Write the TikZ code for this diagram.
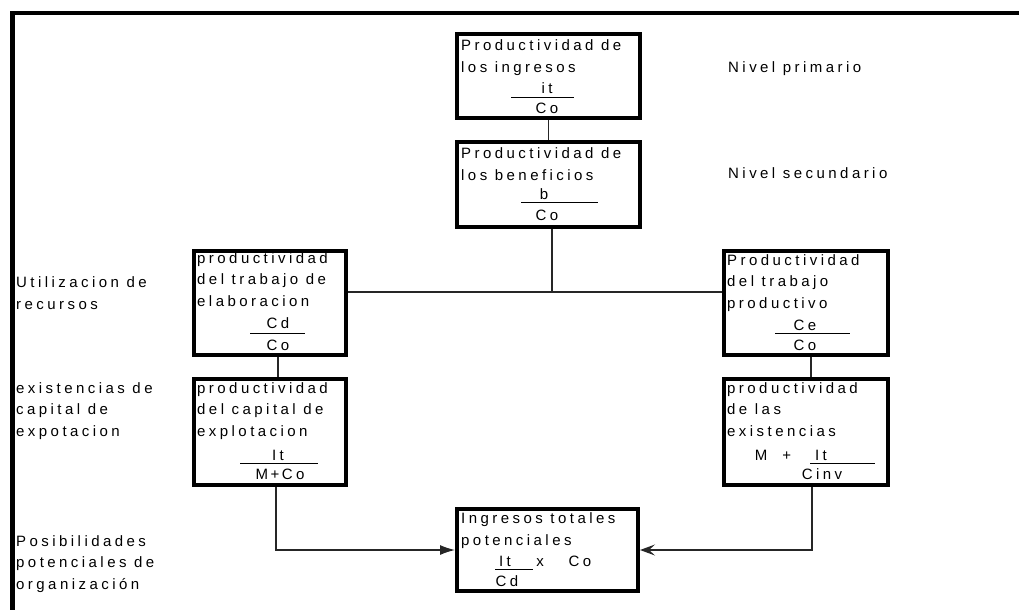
\documentclass[tikz,border=0pt]{standalone}
\usepackage{fontspec}
\setmainfont{Liberation Sans}[LetterSpace=23]
\usetikzlibrary{arrows.meta}
\begin{document}
\begin{tikzpicture}[x=1pt,y=-1pt,
  box/.style={draw, line width=4pt, rectangle, inner sep=0pt, anchor=north west},
  % multi-line texts are placed by the baseline of their last line
  txt/.style={anchor=base west, inner sep=0pt, align=left, font=\fontsize{15}{21.5}\selectfont},
  mid/.style={anchor=base, inner sep=0pt, font=\fontsize{15}{21.5}\selectfont},
  link/.style={line width=1.2pt, draw=black!85},
  fracline/.style={line width=1pt}]
\useasboundingbox (0,0) rectangle (1019,610);

% outer frame (top and left edges only)
\draw[line width=4.5pt, line join=miter] (1019,13) -- (12.5,13) -- (12.5,610);

% boxes
\node[box, minimum width=183pt, minimum height=84pt]  (A) at (455,32)  {};
\node[box, minimum width=183pt, minimum height=85pt]  (B) at (455,140) {};
\node[box, minimum width=152pt, minimum height=104pt] (C) at (192,249) {};
\node[box, minimum width=152pt, minimum height=106pt] (D) at (192,377) {};
\node[box, minimum width=164pt, minimum height=104pt] (E) at (722,249) {};
\node[box, minimum width=164pt, minimum height=106pt] (F) at (722,377) {};
\node[box, minimum width=181pt, minimum height=82pt]  (G) at (455,507) {};

% box A
\node[txt] (At) at (461,72) {Productividad de\\los ingresos};
\node[mid] (An) at (547,93) {it};
\node[mid] (Ad) at (547,113) {Co};
\draw[fracline] (511,97) -- (574,97);

% box B
\node[txt] (Bt) at (461,180) {Productividad de\\los beneficios};
\node[mid] (Bn) at (544,199) {b};
\node[mid] (Bd) at (547,220) {Co};
\draw[fracline] (521,202) -- (598,202);

% box C
\node[txt] (Ct) at (197,306) {productividad\\del trabajo de\\elaboracion};
\node[mid] (Cn) at (278,328) {Cd};
\node[mid] (Cdn) at (278,350) {Co};
\draw[fracline] (250,333) -- (305,333);

% box E
\node[txt] (Et) at (727,308) {Productividad\\del trabajo\\productivo};
\node[mid] (En) at (805,330) {Ce};
\node[mid] (Ed) at (805,350) {Co};
\draw[fracline] (775,333) -- (850,333);

% box D
\node[txt] (Dt) at (197,436) {productividad\\del capital de\\explotacion};
\node[mid] (Dn) at (278,460) {It};
\node[mid] (Dd) at (280,479) {M\,+\,Co};
\draw[fracline] (240,463) -- (318,463);

% box F
\node[txt] (Ft) at (727,436) {productividad\\de las\\existencias};
\node[mid] (Fm) at (773,460) {M\ \ +};
\node[mid] (Fn) at (821,460) {It};
\node[mid] (Fd) at (822,479) {Cinv};
\draw[fracline] (810,463) -- (875,463);

% box G
\node[txt] (Gt) at (461,545) {Ingresos totales\\potenciales};
\node[mid] (Gn) at (505,566) {It};
\node[mid] (Gx) at (540,566) {x};
\node[mid] (Gc) at (580,566) {Co};
\node[mid] (Gd) at (507,586) {Cd};
\draw[fracline] (495,569) -- (533,569);

% level labels
\node[txt] (n1) at (728,72)  {Nivel primario};
\node[txt] (n2) at (728,178) {Nivel secundario};
\node[txt] (l1) at (16,309) {Utilizacion de\\recursos};
\node[txt] (l2) at (16,436) {existencias de\\capital de\\expotacion};
\node[txt] (l3) at (16,589) {Posibilidades\\potenciales de\\organización};

% connectors
\coordinate (J)  at (552,292);
\coordinate (cd) at (278,0);
\coordinate (ef) at (811,0);
\coordinate (dl) at (276,550);
\coordinate (fr) at (812,550);
\draw[link] (A.south) -- (B.north);
\draw[link] (B.south -| J) -- (J);
\draw[link] (C.east |- J) -- (E.west |- J);
\draw[link] (C.south -| cd) -- (D.north -| cd);
\draw[link] (E.south -| ef) -- (F.north -| ef);
\draw[link, -{Latex[length=15pt,width=10pt]}] (D.south -| dl) -- (dl) -- (G.west |- dl);
\draw[link, -{Stealth[length=15pt,width=11pt,inset=6pt]}] (F.south -| fr) -- (fr) -- (G.east |- fr);
\end{tikzpicture}
\end{document}
